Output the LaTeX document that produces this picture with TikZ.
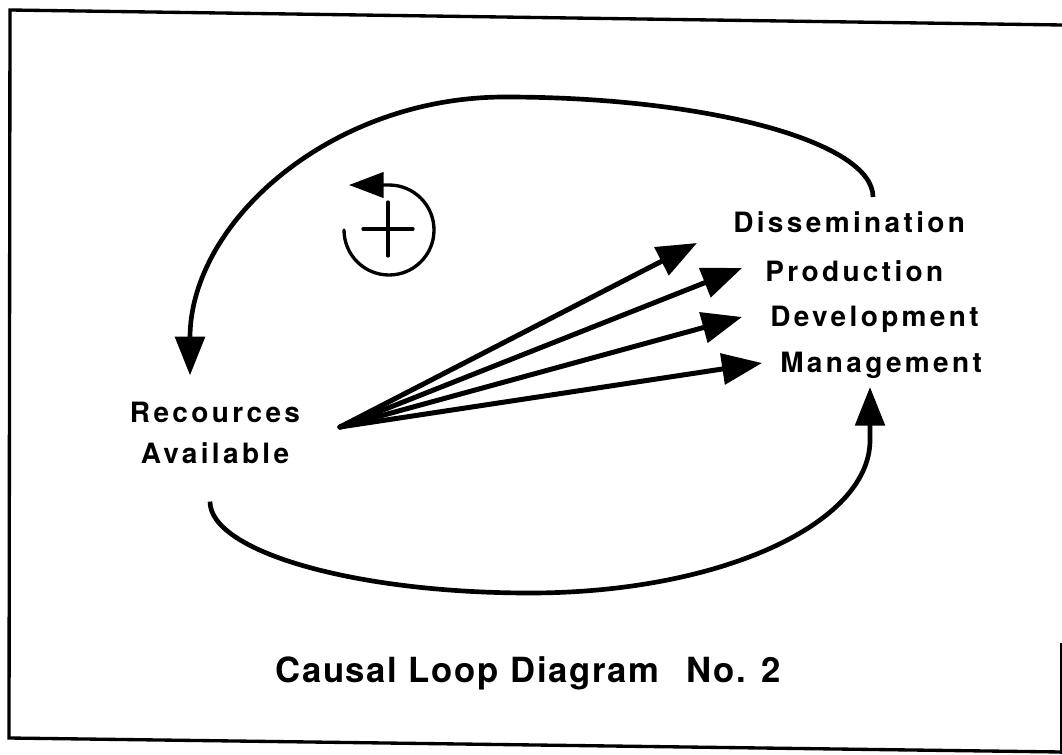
\documentclass[tikz,border=0pt]{standalone}
\usepackage{fontspec}
\newfontfamily\diagfont[LetterSpace=12]{TeX Gyre Heros}
\newfontfamily\captionfont[LetterSpace=5]{TeX Gyre Heros}
\usepackage{tikz}
\usetikzlibrary{arrows.meta, positioning, calc}

\begin{document}
\begin{tikzpicture}[
    x=0.75pt, y=0.75pt,
    varname/.style={font=\diagfont\bfseries\fontsize{21pt}{30.75pt}\selectfont, inner sep=0pt},
    looparc/.style={line width=3.5pt, -{Triangle[length=29pt, width=22pt]}},
    linkarrow/.style={line width=3.75pt, line cap=round, -{Triangle[length=30pt, width=23pt]}},
    signline/.style={line width=2.5pt, line cap=round}
]
\useasboundingbox (0,0) rectangle (1062,754);

% Frame round the sheet
\draw[line width=2.5pt] (1062,729) -- (10,744) -- (9,16) -- (1062,2);
\draw[line width=2pt] (1061,111) -- (1061,0);

% Variables
\node[varname, align=center] (res) at (215,321.5) {Recources\\Available};
\node[varname, anchor=base west] (diss) at (733,521) {Dissemination};
\node[varname, anchor=base west] (prod) at (765,472) {Production};
\node[varname, anchor=base west] (dev) at (770,427) {Development};
\node[varname, anchor=base west] (mgmt) at (780,382) {Management};

% Fan of links from the resources
\coordinate (fan) at (340,327);
\draw[linkarrow] (fan) -- ($(diss.base west)+(-36,-10)$);
\draw[linkarrow] (fan) -- ($(prod.base west)+(-23,14)$);
\draw[linkarrow] (fan) -- ($(dev.base west)+(-28,10)$);
\draw[linkarrow] (fan) -- ($(mgmt.base west)+(-18,9)$);

% Outer feedback loop
\draw[looparc] ($(diss.base west)+(140,36)$) .. controls (873,612) and (708,657) .. (505,657)
    .. controls (331,657) and (190,532) .. ($(res.north)+(-25,26)$);
\draw[looparc] ($(res.south)+(-5,-38)$) .. controls (210,203) and (353,161) .. (530,161)
    .. controls (718,161) and (870,229.5) .. (870,314) -- ($(mgmt.base west)+(90,-15)$);

% Loop sign
\draw[signline, -{Triangle[length=26pt, width=19pt]}] (344,524) arc[start angle=180, end angle=450, radius=45] -- ++(-40,0);
\draw[signline] (363,525) -- (413,525) (388,498) -- (388,552);

% Caption
\node[anchor=base west, inner sep=0pt, font=\captionfont\bfseries\fontsize{26pt}{30pt}\selectfont] (title) at (275,72) {Causal Loop Diagram\hspace{20pt}No. 2};
\end{tikzpicture}
\end{document}
